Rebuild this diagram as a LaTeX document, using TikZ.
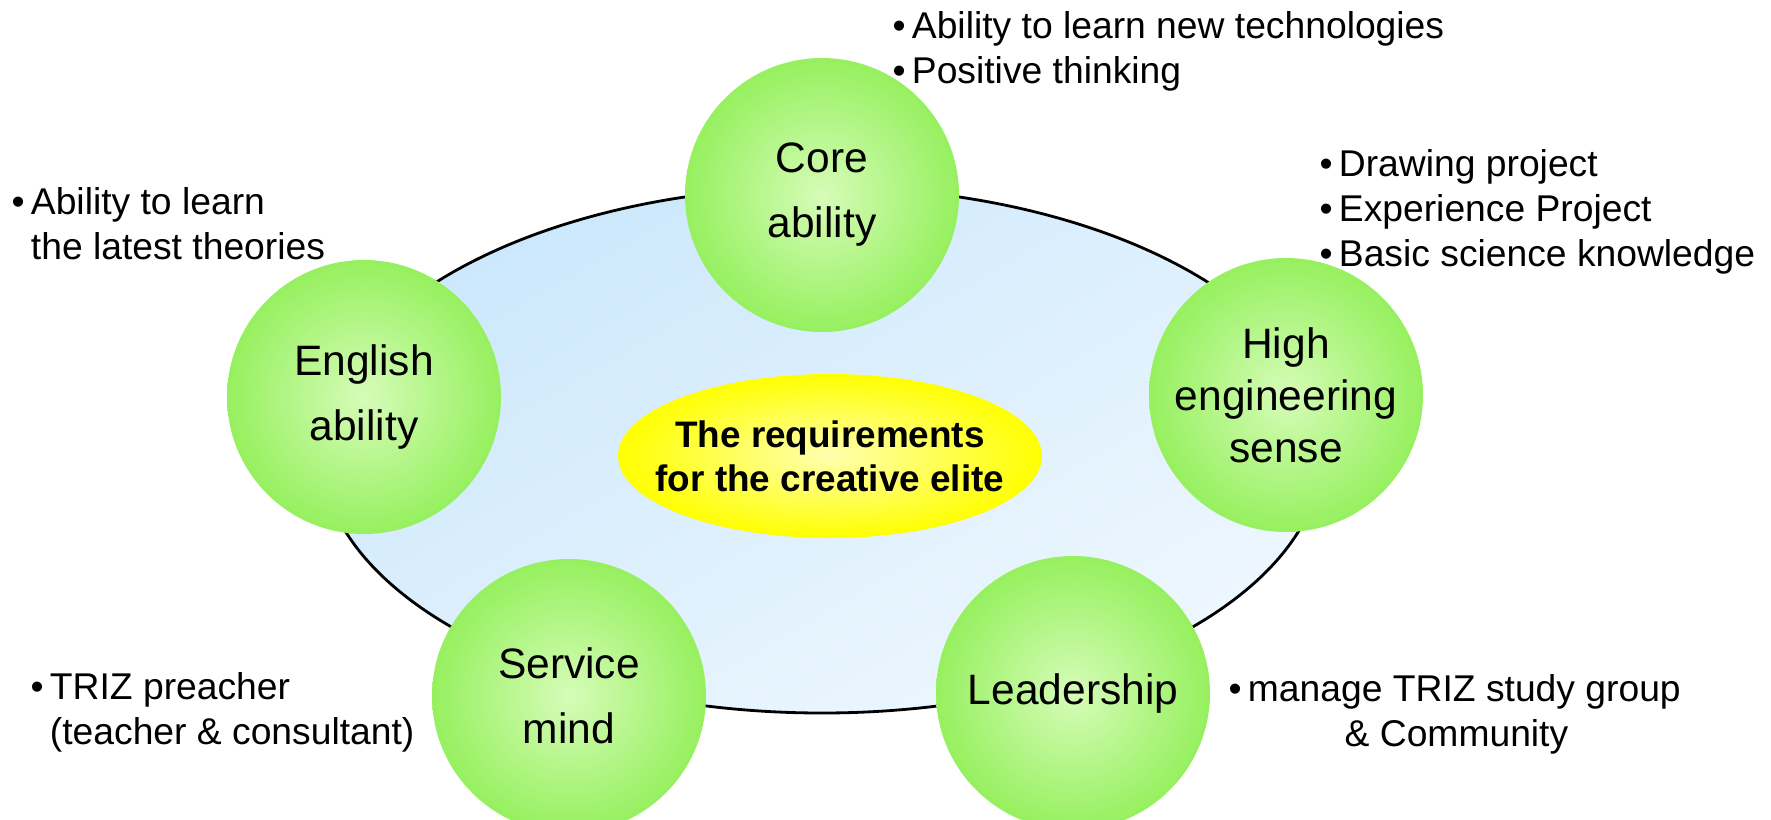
\documentclass[tikz,border=0pt]{standalone}
\usepackage{fontspec}
\setmainfont{Liberation Sans}
\usepackage{tikz}
\usetikzlibrary{shapes,positioning}
\definecolor{rqblue}{RGB}{204,232,252}
\definecolor{rqpaleblue}{RGB}{238,247,254}
\definecolor{rqgreen}{RGB}{150,240,95}
\definecolor{rqlightgreen}{RGB}{214,252,184}
\definecolor{rqyellow}{RGB}{255,255,0}
\definecolor{rqlightyellow}{RGB}{255,255,175}
\tikzstyle{ring} = [ellipse, minimum width=10.02cm, minimum height=5.26cm, draw=black, line width=0.8pt, top color=rqblue, bottom color=rqpaleblue, shading angle=30]
\tikzstyle{skill} = [circle, minimum size=2.74cm, inner sep=0pt, inner color=rqlightgreen, outer color=rqgreen, text centered, align=center, font=\fontsize{12.1}{18.5}\selectfont]
\tikzstyle{elite} = [ellipse, minimum width=4.24cm, minimum height=1.64cm, inner sep=0pt, inner color=rqlightyellow, outer color=rqyellow]
\tikzstyle{elitetext} = [align=center, font=\bfseries\fontsize{10.5}{12.5}\selectfont]
\tikzstyle{note} = [anchor=north west, inner sep=0pt, align=left, font=\fontsize{10.6}{12.8}\selectfont]
\newcommand{\rqbullet}{\textbullet\,}
\newcommand{\rqhang}{\hphantom{\textbullet\,}}

\begin{document}
\begin{tikzpicture}
\useasboundingbox (0,0) rectangle (17.71,-8.19);
% big blue ring
\node (ring) [ring] at (8.22,-4.50) {};

% the five abilities
\node (core) [skill] at (8.22,-1.95) {Core\\ability};
\node (english) [skill] at (3.64,-3.97) {English\\ability};
\node (engineering) [skill, font=\fontsize{12.1}{14.8}\selectfont] at (12.86,-3.95) {High\\engineering\\sense};
\node (service) [skill] at (5.69,-6.96) {Service\\mind};
\node (leader) [skill] at (10.73,-6.93) {Leadership};

% centre
\node (center) [elite, label={[elitetext]center:The requirements\\for the creative elite}] at (8.30,-4.56) {};

% notes
\node (corenote) [note] at (8.92,-0.11) {\rqbullet Ability to learn new technologies\\\rqbullet Positive thinking};
\node (engnote) [note] at (13.19,-1.49) {\rqbullet Drawing project\\\rqbullet Experience Project\\\rqbullet Basic science knowledge};
\node (engenote) [note] at (0.11,-1.87) {\rqbullet Ability to learn\\\rqhang the latest theories};
\node (servnote) [note] at (0.30,-6.72) {\rqbullet TRIZ preacher\\\rqhang (teacher \& consultant)};
\node (leadnote) [note] at (12.28,-6.74) {\rqbullet manage TRIZ study group\\\hspace*{1.16cm}\& Community};
\end{tikzpicture}
\end{document}
